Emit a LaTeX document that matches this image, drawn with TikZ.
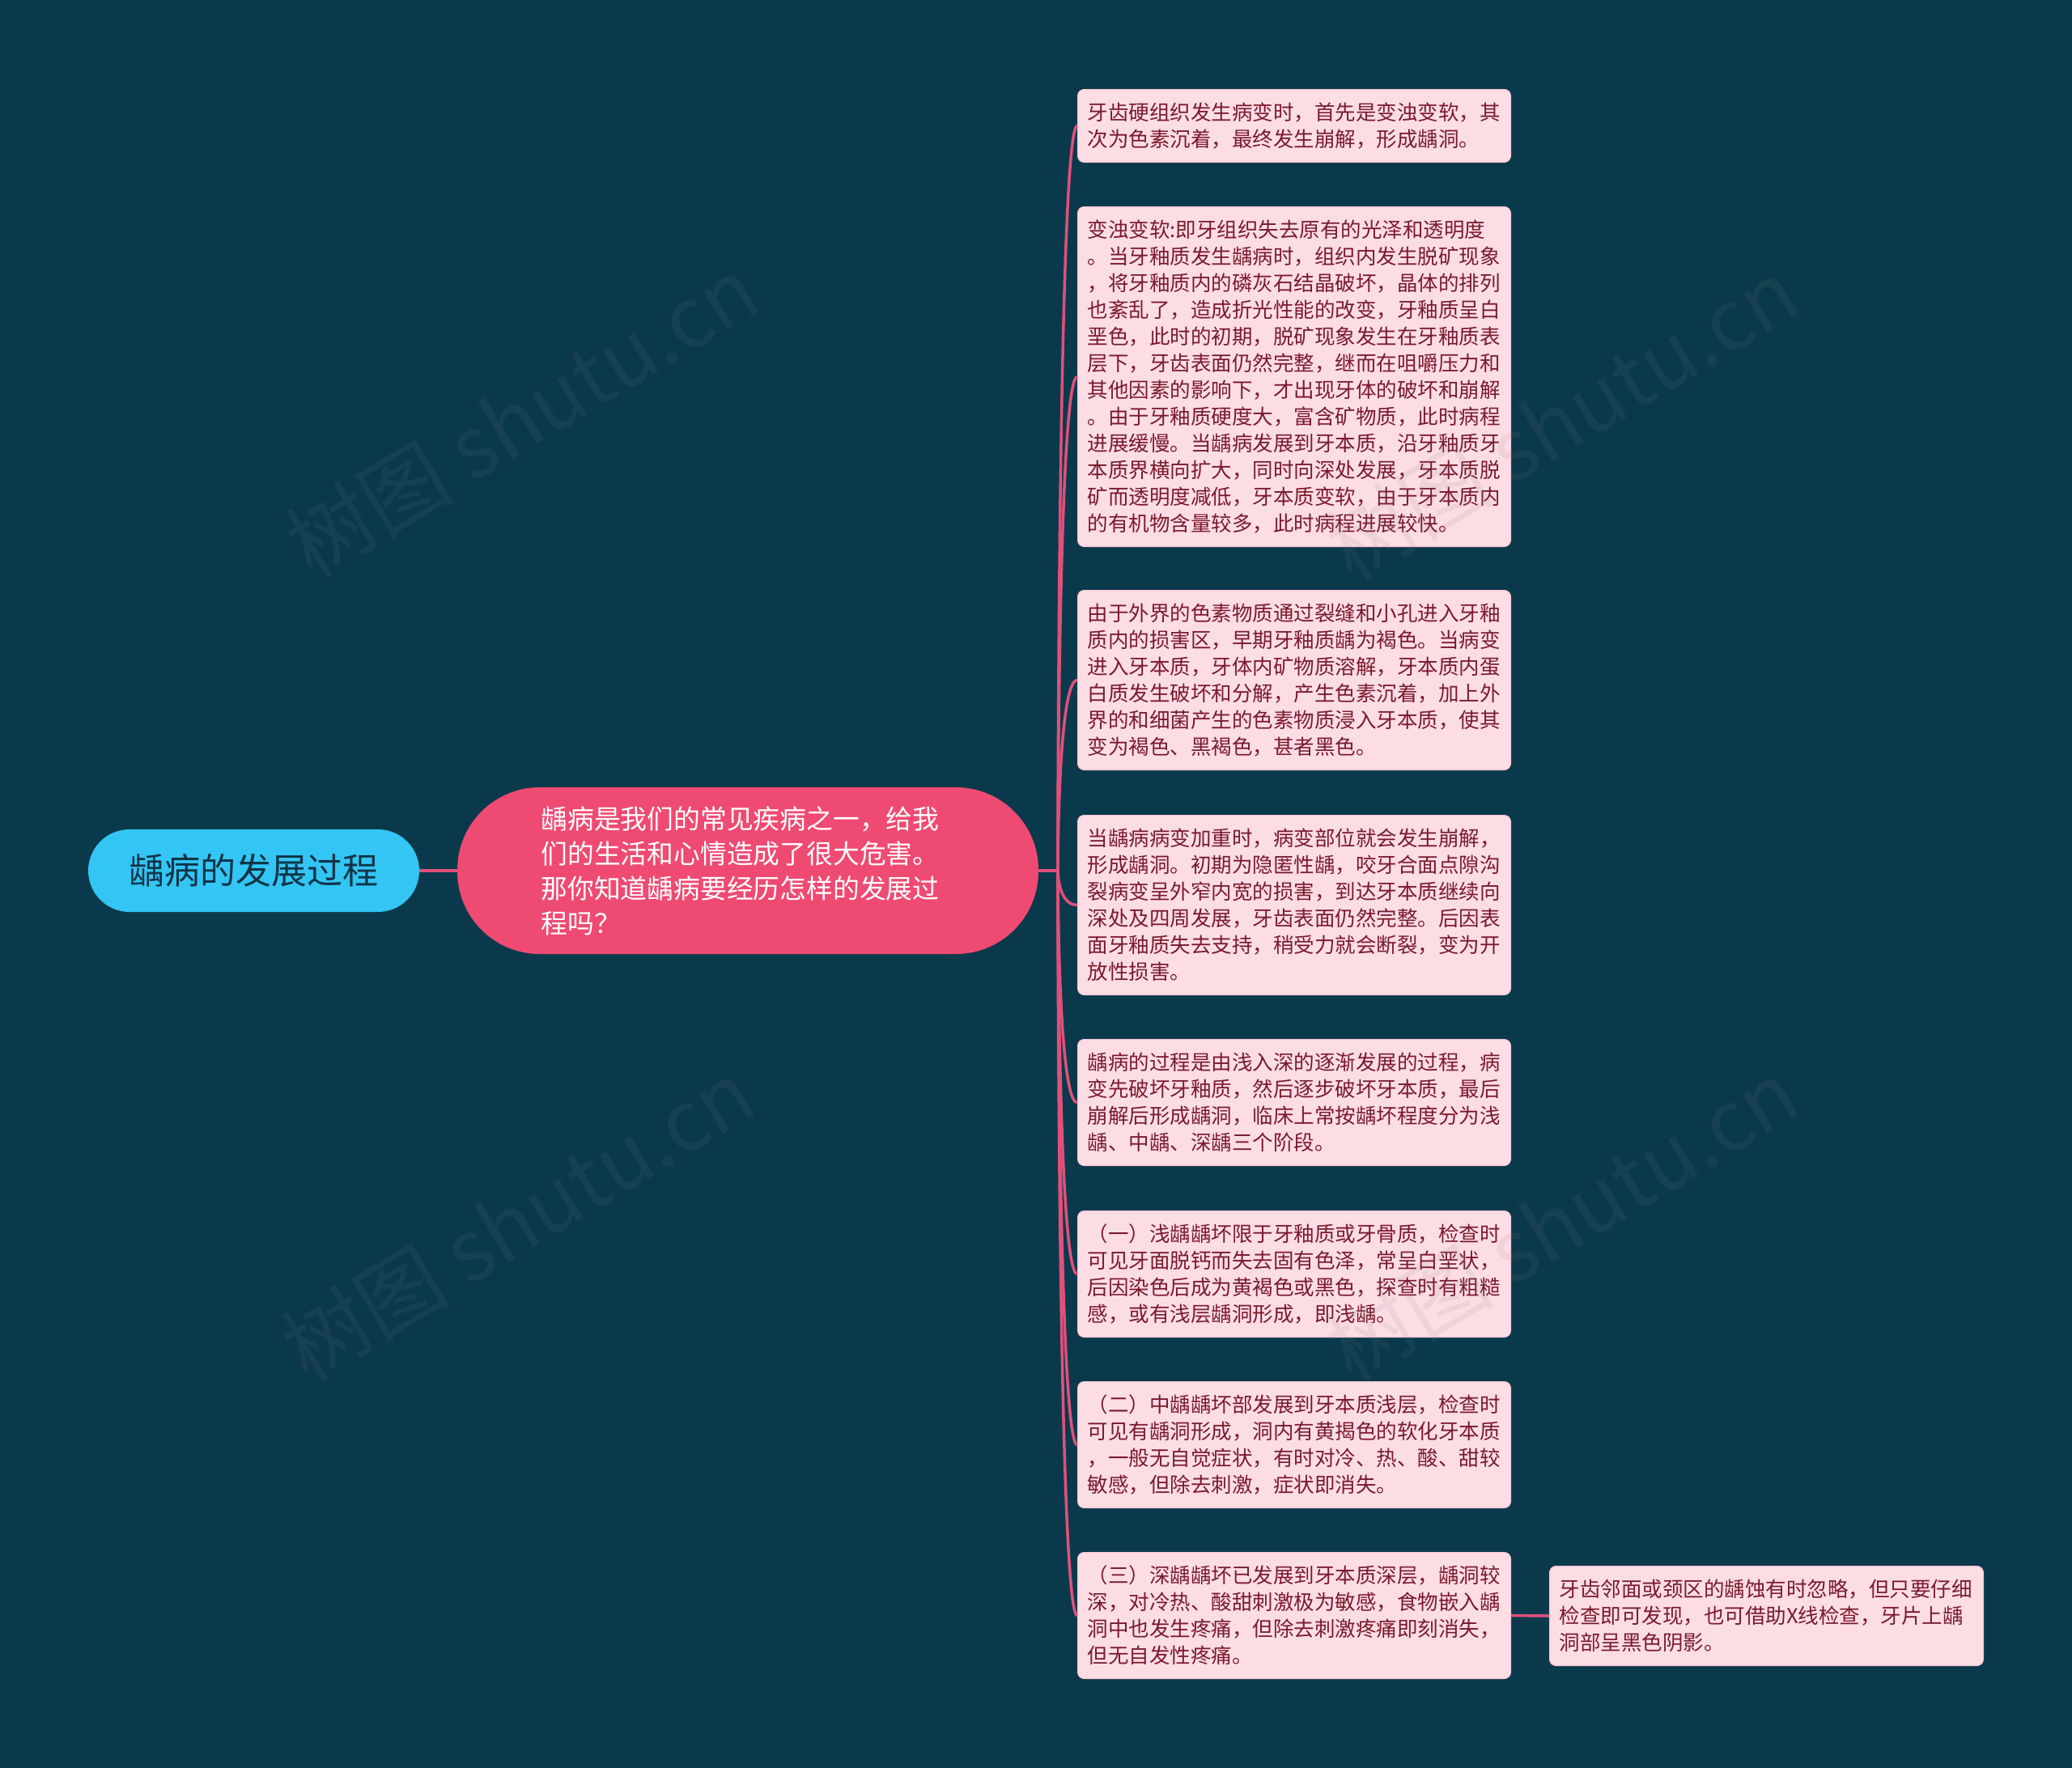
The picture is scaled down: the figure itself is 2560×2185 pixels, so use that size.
\documentclass[tikz,border=0pt]{standalone}
\usepackage{fontspec}
\setmainfont{Noto Sans CJK SC}
\definecolor{bg}{HTML}{0B394C}
\definecolor{leaffill}{HTML}{FDDDE4}
\definecolor{leaftext}{HTML}{7A1A2E}
\definecolor{leafborder}{HTML}{F6C6D2}
\definecolor{mainfill}{HTML}{EF4A72}
\definecolor{rootfill}{HTML}{33C5F3}
\definecolor{roottext}{HTML}{103447}
\definecolor{conncol}{HTML}{E0507A}
\begin{document}
\begin{tikzpicture}[x=1pt,y=-1pt,
  leaf/.style={draw=leafborder, line width=1pt, fill=leaffill, rounded corners=8pt,
    text=leaftext, font=\fontsize{25.5pt}{33pt}\selectfont, text width=511pt,
    align=left, inner xsep=12pt, inner ysep=0pt, anchor=north west},
  rootnode/.style={fill=rootfill, rounded corners=51pt, minimum width=409pt,
    minimum height=102pt, inner sep=0pt, text=roottext,
    font=\fontsize{44pt}{52pt}\selectfont},
  mainnode/.style={fill=mainfill, rounded corners=102pt, minimum width=718pt,
    minimum height=206pt, inner sep=0pt, text=white, text width=511pt, align=left,
    font=\fontsize{32.8pt}{43pt}\selectfont},
  conn/.style={draw=conncol, line width=3.5pt},
  wm/.style={rotate=31, text=gray, text opacity=0.11,
    font=\fontsize{104pt}{110pt}\selectfont}
]
\useasboundingbox (0,0) rectangle (2560,2185);
\fill[bg] (0,0) rectangle (2560,2185);

\node[rootnode] (root) at (313.5,1076) {龋病的发展过程};
\node[mainnode] (main) at (924,1076) {龋病是我们的常见疾病之一，给我\\们的生活和心情造成了很大危害。\\那你知道龋病要经历怎样的发展过\\程吗？};

\node[leaf, minimum height=90pt] (b1) at (1331,110) {牙齿硬组织发生病变时，首先是变浊变软，其\\次为色素沉着，最终发生崩解，形成龋洞。};
\node[leaf, minimum height=420pt] (b2) at (1331,255) {变浊变软:即牙组织失去原有的光泽和透明度\\。当牙釉质发生龋病时，组织内发生脱矿现象\\，将牙釉质内的磷灰石结晶破坏，晶体的排列\\也紊乱了，造成折光性能的改变，牙釉质呈白\\垩色，此时的初期，脱矿现象发生在牙釉质表\\层下，牙齿表面仍然完整，继而在咀嚼压力和\\其他因素的影响下，才出现牙体的破坏和崩解\\。由于牙釉质硬度大，富含矿物质，此时病程\\进展缓慢。当龋病发展到牙本质，沿牙釉质牙\\本质界横向扩大，同时向深处发展，牙本质脱\\矿而透明度减低，牙本质变软，由于牙本质内\\的有机物含量较多，此时病程进展较快。};
\node[leaf, minimum height=222pt] (b3) at (1331,729) {由于外界的色素物质通过裂缝和小孔进入牙釉\\质内的损害区，早期牙釉质龋为褐色。当病变\\进入牙本质，牙体内矿物质溶解，牙本质内蛋\\白质发生破坏和分解，产生色素沉着，加上外\\界的和细菌产生的色素物质浸入牙本质，使其\\变为褐色、黑褐色，甚者黑色。};
\node[leaf, minimum height=222pt] (b4) at (1331,1007) {当龋病病变加重时，病变部位就会发生崩解，\\形成龋洞。初期为隐匿性龋，咬牙合面点隙沟\\裂病变呈外窄内宽的损害，到达牙本质继续向\\深处及四周发展，牙齿表面仍然完整。后因表\\面牙釉质失去支持，稍受力就会断裂，变为开\\放性损害。};
\node[leaf, minimum height=156pt] (b5) at (1331,1284) {龋病的过程是由浅入深的逐渐发展的过程，病\\变先破坏牙釉质，然后逐步破坏牙本质，最后\\崩解后形成龋洞，临床上常按龋坏程度分为浅\\龋、中龋、深龋三个阶段。};
\node[leaf, minimum height=156pt] (b6) at (1331,1496) {（一）浅龋龋坏限于牙釉质或牙骨质，检查时\\可见牙面脱钙而失去固有色泽，常呈白垩状，\\后因染色后成为黄褐色或黑色，探查时有粗糙\\感，或有浅层龋洞形成，即浅龋。};
\node[leaf, minimum height=156pt] (b7) at (1331,1707) {（二）中龋龋坏部发展到牙本质浅层，检查时\\可见有龋洞形成，洞内有黄揭色的软化牙本质\\，一般无自觉症状，有时对冷、热、酸、甜较\\敏感，但除去刺激，症状即消失。};
\node[leaf, minimum height=156pt] (b8) at (1331,1918) {（三）深龋龋坏已发展到牙本质深层，龋洞较\\深，对冷热、酸甜刺激极为敏感，食物嵌入龋\\洞中也发生疼痛，但除去刺激疼痛即刻消失，\\但无自发性疼痛。};
\node[leaf, minimum height=123pt, text width=512pt] (b9) at (1914,1935) {牙齿邻面或颈区的龋蚀有时忽略，但只要仔细\\检查即可发现，也可借助X线检查，牙片上龋\\洞部呈黑色阴影。};

\coordinate (J) at (1307,1076);
\draw[conn] (root.east) -- (main.west);
\draw[conn] (main.east) -- (J);
\foreach \b in {b1,b2,b3,b4,b5,b6,b7,b8}
  \draw[conn] (J) .. controls (J) and (J |- \b.west) .. (\b.west);
\draw[conn] (b8.east) -- (b9.west);

\node[wm] (wm1) at (645,515) {树图 shutu.cn};
\node[wm] (wm2) at (1930,518) {树图 shutu.cn};
\node[wm] (wm3) at (640,1508) {树图 shutu.cn};
\node[wm] (wm4) at (1930,1508) {树图 shutu.cn};
\end{tikzpicture}
\end{document}
